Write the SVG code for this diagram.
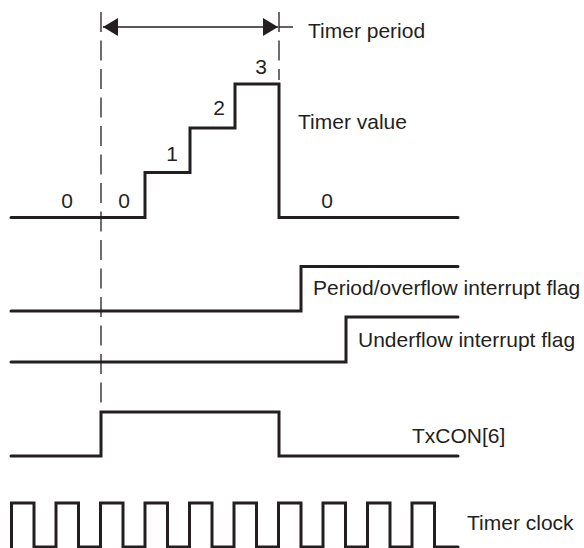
<svg xmlns="http://www.w3.org/2000/svg" width="584" height="548" viewBox="0 0 584 548">
<defs>
<marker id="ah" viewBox="0 0 15 18" refX="15" refY="9" markerWidth="15" markerHeight="18" orient="auto-start-reverse" markerUnits="userSpaceOnUse">
<path d="M0,0 L15,9 L0,18 z" fill="#231f20"/>
</marker>
<style>
.sig{fill:none;stroke:#231f20;stroke-width:3;stroke-linecap:round;stroke-linejoin:miter}
.dash{fill:none;stroke:#231f20;stroke-width:1.3;stroke-dasharray:20 8.5}
.thin{fill:none;stroke:#231f20;stroke-width:1.4}
text{font-family:"Liberation Sans",Arial,sans-serif;font-size:21px;fill:#231f20}
.num{text-anchor:middle}
</style>
</defs>
<rect width="584" height="548" fill="#fff"/>
<g id="connectors">
<line class="dash" x1="101" y1="12" x2="101" y2="410"/>
<line class="dash" x1="279" y1="12" x2="279" y2="80"/>
<line class="thin" x1="103" y1="27" x2="278" y2="27" marker-start="url(#ah)" marker-end="url(#ah)"/>
<line class="thin" x1="279" y1="27" x2="293" y2="27"/>
<text x="308" y="38">Timer period</text>
</g>
<g id="timer-value">
<path class="sig" d="M11,217.5 H145 V172.5 H190 V128 H235 V84 H279 V217.5 H458"/>
<text class="num" x="67" y="207.5">0</text>
<text class="num" x="124" y="207.5">0</text>
<text class="num" x="172" y="161">1</text>
<text class="num" x="219" y="115">2</text>
<text class="num" x="261" y="74">3</text>
<text class="num" x="327" y="207.5">0</text>
<text x="298" y="129">Timer value</text>
</g>
<g id="period-flag">
<path class="sig" d="M11,311 H301 V266.5 H458"/>
<text x="313" y="295">Period/overflow interrupt flag</text>
</g>
<g id="underflow-flag">
<path class="sig" d="M11,362 H346 V317 H458"/>
<text x="358" y="347">Underflow interrupt flag</text>
</g>
<g id="txcon">
<path class="sig" d="M11,456 H101 V412 H279 V456 H458"/>
<text x="412" y="443">TxCON[6]</text>
</g>
<g id="timer-clock">
<path class="sig" d="M11.5,549 V503 H34 V547 H56 V503 H78.5 V547 H100.5 V503 H123 V547 H145 V503 H167.5 V547 H189.5 V503 H212 V547 H234 V503 H256.5 V547 H278.5 V503 H301 V547 H323 V503 H345.5 V547 H367.5 V503 H390 V547 H412 V503 H434.5 V547 H458"/>
<text x="467" y="530">Timer clock</text>
</g>
</svg>
